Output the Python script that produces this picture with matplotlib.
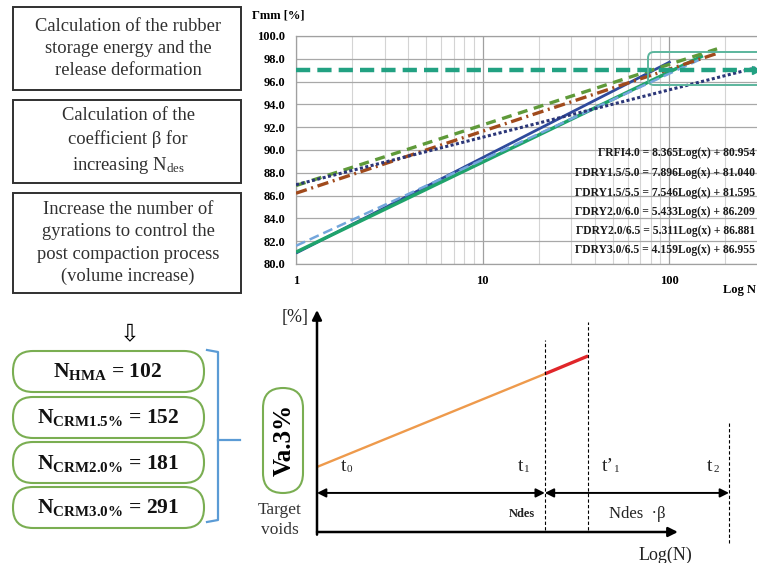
import numpy as np
import matplotlib
matplotlib.use('Agg')
import matplotlib.pyplot as plt
from matplotlib.patches import FancyBboxPatch, Rectangle
from matplotlib.ticker import FixedLocator, NullFormatter

plt.rcParams['font.family'] = ['Liberation Serif', 'DejaVu Sans']
plt.rcParams['mathtext.fontset'] = 'custom'
plt.rcParams['mathtext.rm'] = 'Liberation Serif'
plt.rcParams['mathtext.it'] = 'Liberation Serif:italic'
plt.rcParams['mathtext.bf'] = 'Liberation Serif:bold'

# ---------------- data ----------------
# compaction trendlines  Gmm = a*log10(N) + b
series_names = ['ΓRFI4.0', 'ΓDRY1.5/5.0', 'ΓDRY1.5/5.5', 'ΓDRY2.0/6.0', 'ΓDRY2.0/6.5', 'ΓDRY3.0/6.5']
slopes = [8.365, 7.896, 7.546, 5.433, 5.311, 4.159]
intercepts = [80.954, 81.040, 81.595, 86.209, 86.881, 86.955]
n_end = [102, 152, 152, 181, 181, 291]
target_gmm = 97.0
x_ticks = [1, 10, 100]
x_tick_labels = ['1', '10', '100']
y_ticks = [80, 82, 84, 86, 88, 90, 92, 94, 96, 98, 100]
y_tick_labels = ['80.0', '82.0', '84.0', '86.0', '88.0', '90.0', '92.0', '94.0', '96.0', '98.0', '100.0']

# design gyrations
pill_subscripts = ['HMA', 'CRM1.5%', 'CRM2.0%', 'CRM3.0%']
pill_values = [102, 152, 181, 291]

box_texts = ['Calculation of the rubber\nstorage energy and the\nrelease deformation',
             'Calculation of the\ncoefficient β for\nincreasing N$_{\\mathrm{des}}$',
             'Increase the number of\ngyrations to control the\npost compaction process\n(volume increase)']

# schematic (arbitrary units of Log(N) and %)
sch_n = [0.0, 5.53, 6.58]          # t0, t1, t'1
sch_v = [2.93, 7.12, 7.93]
sch_t2 = 10.0

W, H = 757, 563
fig = plt.figure(figsize=(W / 100, H / 100), dpi=100)
fig.patch.set_facecolor('white')

def fx(px):
    return px / W

def fy(py):
    return 1 - py / H

# ---------------- top chart ----------------
x_left, x_right = 296, 757
y_top, y_bot = 36, 264
ax = fig.add_axes([fx(x_left), fy(y_bot), fx(x_right - x_left), (y_bot - y_top) / H])
ax.set_xscale('log')
decade_px = 186.5
ax.set_xlim(1, 10 ** ((x_right - x_left) / decade_px))
ax.set_ylim(80, 100)
ax.xaxis.set_major_locator(FixedLocator(x_ticks))
ax.set_xticklabels(x_tick_labels)
minor = [m * d for d in (1, 10, 100) for m in range(2, 10)]
ax.xaxis.set_minor_locator(FixedLocator(minor))
ax.xaxis.set_minor_formatter(NullFormatter())
ax.set_yticks(y_ticks)
ax.set_yticklabels(y_tick_labels)
ax.tick_params(which='both', length=0)
ax.tick_params(axis='y', pad=8)
ax.tick_params(axis='x', pad=8)
for lab in ax.get_xticklabels() + ax.get_yticklabels():
    lab.set_fontweight('bold')
    lab.set_fontsize(9)
ax.grid(True, which='major', axis='y', color='#a8a8a8', lw=0.9)
ax.grid(True, which='major', axis='x', color='#a0a0a0', lw=0.9)
ax.grid(True, which='minor', axis='x', color='#d4d4d4', lw=0.8)
for s in ax.spines.values():
    s.set_color('#a0a0a0')
    s.set_linewidth(0.9)
ax.spines['right'].set_visible(False)
ax.set_axisbelow(True)

colors = ['#2f4a9c', '#1fa36c', '#74a6dc', '#a04a1c', '#5f9a3a', '#2b3678']
styles = ['-', '-', (0, (4, 2)), (0, (3.4, 1.4, 0.6, 1.4)), (0, (3, 2)), (0, (1, 0.8))]
widths = [2.0, 2.5, 1.8, 2.4, 2.4, 2.2]
order = [2, 1, 0, 3, 4, 5]
for i in order:
    xs = np.array([1.0, n_end[i]])
    ys = slopes[i] * np.log10(xs) + intercepts[i]
    ax.plot(xs, ys, color=colors[i], ls=styles[i], lw=widths[i], zorder=3 + i * 0.1,
            solid_capstyle='butt', dash_capstyle='butt')

xmax = ax.get_xlim()[1]
ax.plot([1, xmax * 0.985], [target_gmm, target_gmm], color='#22a182', lw=3.2,
        ls=(0, (3.2, 1.6)), zorder=4, clip_on=False)
ax.plot([xmax * 0.985], [target_gmm], marker='>', color='#22a182', ms=6, zorder=4, clip_on=False)

# ---------------- overlay (pixel coordinates) ----------------
ov = fig.add_axes([0, 0, 1, 1])
ov.set_xlim(0, W)
ov.set_ylim(H, 0)
ov.axis('off')
ov.patch.set_alpha(0)

ov.text(252, 15, 'Γmm [%]', fontsize=9, fontweight='bold', ha='left', va='center')
ov.text(756, 290, 'Log N', fontsize=9, fontweight='bold', ha='right', va='center')

eq_y = [153, 173, 193, 212, 231, 250]
for name, a, b, yy in zip(series_names, slopes, intercepts, eq_y):
    ov.text(755, yy, f'{name} = {a:.3f}Log(x) + {b:.3f}', fontsize=8.4,
            fontweight='bold', ha='right', va='center', color='#1a1a1a')

# highlight box on chart
ov.add_patch(FancyBboxPatch((648, 52), 130, 33, boxstyle='round,pad=0,rounding_size=6',
                            fill=False, ec='#5bb59d', lw=1.4, clip_on=False))

# left text boxes
box_geo = [(13, 7, 228, 83), (13, 100, 228, 83), (13, 193, 228, 100)]
for (x0, y0, w, h), t in zip(box_geo, box_texts):
    ov.add_patch(Rectangle((x0, y0), w, h, fill=False, ec='#303030', lw=1.4))
    ov.text(x0 + w / 2 + 1, y0 + h / 2, t, fontsize=13.3, ha='center', va='center',
            color='#303030', linespacing=1.42)

# hollow arrow
ov.text(130, 333, '⇩', fontsize=17, ha='center', va='center', family=['DejaVu Sans'])

# pills
pill_y = [351, 397, 442, 487]
for yy, sub, val in zip(pill_y, pill_subscripts, pill_values):
    ov.add_patch(FancyBboxPatch((13, yy), 191, 41, boxstyle='round,pad=0,rounding_size=20',
                                fill=False, ec='#7aae52', lw=1.5))
    sub_t = sub.replace('%', r'\%')
    ov.text(108, yy + 21, r'$\mathbf{N}_{\mathbf{' + sub_t + r'}}$' + f' = {val}',
            fontsize=15.5, fontweight='bold', ha='center', va='center', color='#111111')

# bracket
ov.plot([207, 218, 218, 207], [350, 352, 520, 522], color='#5b9bd5', lw=1.6)
ov.plot([218, 240], [440, 440], color='#5b9bd5', lw=1.6)

# Va.3% pill
ov.add_patch(FancyBboxPatch((263, 388), 40, 105, boxstyle='round,pad=0,rounding_size=20',
                            fill=False, ec='#7aae52', lw=1.5))
ov.text(284, 440, 'Va.3%', rotation=90, fontsize=18, fontweight='bold', ha='center', va='center')
ov.text(280, 510, 'Target', fontsize=12.5, ha='center', va='center', color='#333333')
ov.text(280, 530, 'voids', fontsize=12.5, ha='center', va='center', color='#333333')

# ---------------- schematic ----------------
sx0, sx1, sy0, sy1 = 317, 729, 532, 310
axs = fig.add_axes([fx(sx0), fy(sy0), fx(sx1 - sx0), (sy0 - sy1) / H])
axs.set_xlim(0, 10)
axs.set_ylim(0, 10)
axs.axis('off')
axs.patch.set_alpha(0)
axs.annotate('', xy=(0, 10), xytext=(0, -0.12),
             arrowprops=dict(arrowstyle='-|>', color='black', lw=1.8, mutation_scale=14,
                             shrinkA=0, shrinkB=0))
axs.annotate('', xy=(8.76, 0), xytext=(0, 0),
             arrowprops=dict(arrowstyle='-|>', color='black', lw=1.8, mutation_scale=14,
                             shrinkA=0, shrinkB=0))
axs.plot(sch_n[:2], sch_v[:2], color='#ee9a4c', lw=1.7, solid_capstyle='butt')
axs.plot(sch_n[1:], sch_v[1:], color='#e0262a', lw=2.4, solid_capstyle='butt')
dash = (0, (3, 2))
axs.plot([sch_n[1], sch_n[1]], [0.09, 8.65], color='black', lw=0.8, ls=dash, clip_on=False)
axs.plot([sch_n[2], sch_n[2]], [0.09, 9.46], color='black', lw=0.8, ls=dash, clip_on=False)
axs.plot([sch_t2, sch_t2], [-0.5, 4.91], color='black', lw=0.8, ls=dash, clip_on=False)
arr_y = 1.76
for a0, a1 in [(0, sch_n[1]), (sch_n[1], sch_t2)]:
    axs.annotate('', xy=(a1, arr_y), xytext=(a0, arr_y),
                 arrowprops=dict(arrowstyle='<|-|>', color='black', lw=1.4, mutation_scale=13,
                                 shrinkA=0, shrinkB=0), annotation_clip=False)

t_y = 2.97
for xx, main, sub in [(0.7, 't', '0'), (5.0, 't', '1'), (7.2, 't’', '1'), (9.6, 't', '2')]:
    axs.text(xx, t_y, main, fontsize=14, ha='right', va='center', color='#222222')
    axs.text(xx + 0.02, t_y - 0.15, sub, fontsize=8, ha='left', va='center', color='#222222')
axs.text(4.97, 0.81, 'Ndes', fontsize=9, fontweight='bold', ha='center', va='center', color='#222222')
axs.text(7.77, 0.81, 'Ndes  ·β', fontsize=12, ha='center', va='center', color='#222222')
axs.text(-0.53, 9.64, '[%]', fontsize=13, ha='center', va='center', color='#222222')
axs.text(8.45, -1.04, 'Log(N)', fontsize=13, ha='center', va='center', color='#222222')

fig.savefig('out.png', dpi=100, facecolor='white')
